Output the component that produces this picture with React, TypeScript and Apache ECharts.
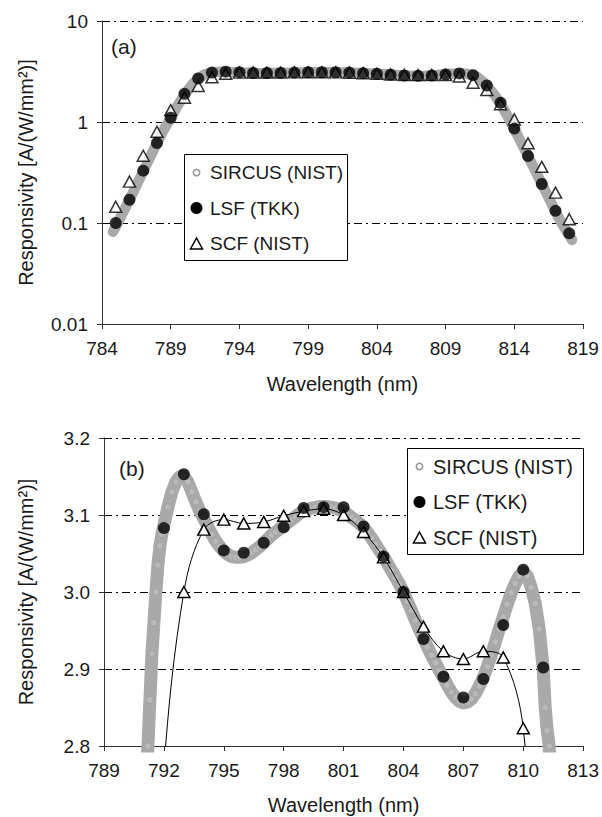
import React, { useEffect, useRef } from "react";
import * as echarts from "echarts";

// ---------------- data ----------------
// SIRCUS (NIST) – dense measurement (wavelength nm, responsivity A/(W/mm2))
const SIRCUS_NM = [
  784.8, 785.0, 785.5, 786.0, 786.5, 787.0, 787.5, 788.0, 788.5, 789.0, 789.5, 790.0, 790.5, 791.0,
  791.2, 791.3, 791.4, 791.5, 791.6, 791.7, 791.8, 791.9, 792.0, 792.2, 792.4, 792.6, 792.8, 793.0,
  793.2, 793.4, 793.6, 793.8, 794.0, 794.2, 794.4, 794.6, 794.8, 795.0, 795.2, 795.4, 795.6, 795.8,
  796.0, 796.2, 796.4, 796.6, 796.8, 797.0, 797.2, 797.4, 797.6, 797.8, 798.0, 798.2, 798.4, 798.6,
  798.8, 799.0, 799.2, 799.4, 799.6, 799.8, 800.0, 800.2, 800.4, 800.6, 800.8, 801.0, 801.2, 801.4,
  801.6, 801.8, 802.0, 802.2, 802.4, 802.6, 802.8, 803.0, 803.2, 803.4, 803.6, 803.8, 804.0, 804.2,
  804.4, 804.6, 804.8, 805.0, 805.2, 805.4, 805.6, 805.8, 806.0, 806.2, 806.4, 806.6, 806.8, 807.0,
  807.2, 807.4, 807.6, 807.8, 808.0, 808.2, 808.4, 808.6, 808.8, 809.0, 809.2, 809.4, 809.6, 809.8,
  810.0, 810.2, 810.4, 810.6, 810.8, 811.0, 811.1, 811.2, 811.3, 811.5, 812.0, 812.5, 813.0, 813.5,
  814.0, 814.5, 815.0, 815.5, 816.0, 816.5, 817.0, 817.5, 818.0, 818.2,
];
const SIRCUS_VAL = [
  0.082, 0.092, 0.125, 0.17, 0.235, 0.325, 0.45, 0.62, 0.84, 1.1, 1.45, 1.85, 2.3, 2.7,
  2.8, 2.86, 2.92, 2.96, 3.0, 3.035, 3.06, 3.075, 3.087, 3.11, 3.13, 3.143, 3.15, 3.15,
  3.143, 3.13, 3.117, 3.105, 3.095, 3.085, 3.075, 3.066, 3.059, 3.053, 3.049, 3.046, 3.045, 3.045,
  3.046, 3.048, 3.051, 3.055, 3.059, 3.064, 3.069, 3.074, 3.078, 3.082, 3.086, 3.09, 3.094, 3.098,
  3.102, 3.105, 3.107, 3.109, 3.11, 3.111, 3.111, 3.111, 3.11, 3.109, 3.107, 3.105, 3.101, 3.097,
  3.093, 3.089, 3.084, 3.077, 3.07, 3.062, 3.054, 3.046, 3.037, 3.028, 3.019, 3.01, 3.0, 2.988,
  2.976, 2.963, 2.951, 2.94, 2.929, 2.918, 2.908, 2.898, 2.889, 2.879, 2.87, 2.863, 2.858, 2.856,
  2.857, 2.861, 2.868, 2.878, 2.889, 2.903, 2.918, 2.935, 2.952, 2.968, 2.984, 2.999, 3.011, 3.021,
  3.026, 3.021, 3.006, 2.985, 2.952, 2.9, 2.85, 2.82, 2.8, 2.65, 2.3, 1.9, 1.52, 1.15,
  0.86, 0.63, 0.46, 0.335, 0.245, 0.178, 0.13, 0.097, 0.075, 0.068,
];

// LSF (TKK)
const LSF_NM = [
  785, 786, 787, 788, 789, 790, 791, 792, 793, 794, 795, 796, 797, 798, 799, 800, 801,
  802, 803, 804, 805, 806, 807, 808, 809, 810, 811, 812, 813, 814, 815, 816, 817, 818,
];
const LSF_VAL = [
  0.1, 0.17, 0.33, 0.62, 1.1, 1.9, 2.7, 3.083, 3.153, 3.101, 3.054, 3.051, 3.064, 3.084, 3.109, 3.11, 3.11,
  3.085, 3.046, 3.0, 2.939, 2.89, 2.863, 2.887, 2.957, 3.029, 2.902, 2.3, 1.55, 0.86, 0.46, 0.243, 0.132, 0.079,
];

// SCF (NIST)
const SCF_NM = [
  785, 786, 787, 788, 789, 790, 791, 792, 793, 794, 795, 796, 797, 798, 799, 800, 801,
  802, 803, 804, 805, 806, 807, 808, 809, 810, 811, 812, 813, 814, 815, 816, 817, 818,
];
const SCF_VAL = [
  0.145, 0.257, 0.463, 0.8, 1.31, 1.74, 2.27, 2.77, 3.0, 3.081, 3.094, 3.089, 3.091, 3.099, 3.105, 3.108, 3.1,
  3.078, 3.045, 3.0, 2.955, 2.923, 2.913, 2.923, 2.915, 2.823, 2.45, 2.07, 1.5, 1.06, 0.615, 0.36, 0.2, 0.109,
];

// axes
const X_A = { min: 784, max: 819, interval: 5 };
const Y_A = { min: 0.01, max: 10 };
const Y_A_LABELS = ["0.01", "0.1", "1", "10"];
const X_B = { min: 789, max: 813, interval: 3 };
const Y_B = { min: 2.8, max: 3.2, interval: 0.1 };

const LEGEND_NAMES = ["SIRCUS (NIST)", "LSF (TKK)", "SCF (NIST)"];
const X_TITLE = "Wavelength (nm)";
const Y_TITLE = "Responsivity [A/(W/mm²)]";

// ---------------- styling ----------------
const FONT = "'Liberation Sans', Arial, Helvetica, sans-serif";
const TEXT = "#1a1a1a";
const AXIS = "#333333";
const DASH_DOT = [8, 4, 2, 4];
const BAND = "#a9a9a9";

const pairs = (xs: number[], ys: number[]) => xs.map((x, i) => [x, ys[i]]);

function legendGraphic(x: number, y: number, w: number, h: number, fs: number) {
  const ix = x + 12.5;
  const tx = x + 26;
  const rows = [y + 18.5, y + 54, y + 89.5];
  return [
    {
      type: "rect",
      z: 100,
      shape: { x: x + 0.5, y: y + 0.5, width: w, height: h },
      style: { fill: "#ffffff", stroke: "#000000", lineWidth: 1 },
    },
    {
      type: "circle",
      z: 101,
      shape: { cx: ix, cy: rows[0], r: 3.2 },
      style: { fill: "#ffffff", stroke: "#9a9a9a", lineWidth: 1.6 },
    },
    {
      type: "circle",
      z: 101,
      shape: { cx: ix, cy: rows[1], r: 6 },
      style: { fill: "#000000" },
    },
    {
      type: "polygon",
      z: 101,
      shape: {
        points: [
          [ix - 6, rows[2] + 5.5],
          [ix + 6, rows[2] + 5.5],
          [ix, rows[2] - 5.5],
        ],
      },
      style: { fill: "#ffffff", stroke: "#000000", lineWidth: 1.5 },
    },
    ...LEGEND_NAMES.map((name, i) => ({
      type: "text",
      z: 101,
      x: tx,
      y: rows[i],
      style: {
        text: name,
        fontSize: fs,
        fontFamily: FONT,
        fill: TEXT,
        align: "left",
        verticalAlign: "middle",
      },
    })),
  ];
}

function xAxisCfg(grid: number, r: { min: number; max: number; interval: number }, gap: number) {
  return {
    gridIndex: grid,
    type: "value",
    min: r.min,
    max: r.max,
    interval: r.interval,
    name: X_TITLE,
    nameLocation: "middle",
    nameGap: gap,
    nameTextStyle: { fontSize: 20, color: TEXT, fontFamily: FONT },
    axisLine: { onZero: false, lineStyle: { color: AXIS, width: 1 } },
    axisTick: { show: true, inside: false, length: 5, lineStyle: { color: AXIS } },
    axisLabel: { fontSize: 19, color: TEXT, fontFamily: FONT, margin: 15 },
    splitLine: { show: false },
  };
}

export default function App() {
  const ref = useRef<HTMLDivElement>(null);

  useEffect(() => {
    if (!ref.current) return;
    const chart = echarts.init(ref.current, undefined, { renderer: "svg" });

    const sircus = pairs(SIRCUS_NM, SIRCUS_VAL);
    const lsf = pairs(LSF_NM, LSF_VAL);
    const scf = pairs(SCF_NM, SCF_VAL);

    const yNameStyle = { fontSize: 20, color: TEXT, fontFamily: FONT };

    const option: any = {
      animation: false,
      backgroundColor: "#ffffff",
      textStyle: { fontFamily: FONT },
      grid: [
        { left: 102, right: 19, top: 21, height: 303, containLabel: false },
        { left: 104, right: 16, top: 438, height: 308, containLabel: false },
      ],
      xAxis: [xAxisCfg(0, X_A, 50), xAxisCfg(1, X_B, 49)],
      yAxis: [
        {
          gridIndex: 0,
          type: "log",
          logBase: 10,
          min: Y_A.min,
          max: Y_A.max,
          name: Y_TITLE,
          nameLocation: "middle",
          nameRotate: 90,
          nameGap: 66,
          nameTextStyle: yNameStyle,
          axisLine: { onZero: false, lineStyle: { color: AXIS, width: 1 } },
          axisTick: { show: true, inside: false, length: 5, lineStyle: { color: AXIS } },
          axisLabel: {
            fontSize: 19,
            color: TEXT,
            fontFamily: FONT,
            margin: 14,
            formatter: (v: number) => Y_A_LABELS[Math.round(Math.log10(v)) + 2] ?? "",
          },
          minorTick: { show: false },
          splitLine: { show: true, lineStyle: { color: "#000000", width: 1, type: DASH_DOT } },
        },
        {
          gridIndex: 1,
          type: "value",
          min: Y_B.min,
          max: Y_B.max,
          interval: Y_B.interval,
          name: Y_TITLE,
          nameLocation: "middle",
          nameRotate: 90,
          nameGap: 68,
          nameTextStyle: yNameStyle,
          axisLine: { onZero: false, lineStyle: { color: AXIS, width: 1 } },
          axisTick: { show: true, inside: false, length: 5, lineStyle: { color: AXIS } },
          axisLabel: {
            fontSize: 19,
            color: TEXT,
            fontFamily: FONT,
            margin: 14,
            formatter: (v: number) => v.toFixed(1),
          },
          splitLine: { show: true, lineStyle: { color: "#000000", width: 1, type: DASH_DOT } },
        },
      ],
      series: [
        // ---- panel (a)
        {
          name: "SIRCUS band a",
          type: "line",
          xAxisIndex: 0,
          yAxisIndex: 0,
          data: sircus,
          showSymbol: false,
          symbol: "none",
          lineStyle: { width: 10.5, color: BAND, cap: "round", join: "round" },
          z: 2,
          silent: true,
        },
        {
          name: "SCF (NIST)",
          type: "scatter",
          xAxisIndex: 0,
          yAxisIndex: 0,
          data: scf,
          symbol: "triangle",
          symbolSize: [12, 11],
          itemStyle: { color: "#ffffff", borderColor: "#000000", borderWidth: 1.5 },
          z: 3,
        },
        {
          name: "LSF (TKK)",
          type: "scatter",
          xAxisIndex: 0,
          yAxisIndex: 0,
          data: lsf,
          symbol: "circle",
          symbolSize: 12,
          itemStyle: { color: "#000000" },
          z: 4,
        },
        // ---- panel (b)
        {
          name: "SIRCUS fit b",
          type: "line",
          xAxisIndex: 1,
          yAxisIndex: 1,
          data: sircus,
          showSymbol: false,
          symbol: "none",
          lineStyle: { width: 1, color: "#000000" },
          z: 1,
          silent: true,
        },
        {
          name: "SIRCUS band b",
          type: "line",
          xAxisIndex: 1,
          yAxisIndex: 1,
          data: sircus,
          showSymbol: false,
          symbol: "none",
          lineStyle: { width: 13, color: BAND, join: "round" },
          z: 2,
          silent: true,
        },
        {
          name: "SIRCUS (NIST)",
          type: "scatter",
          xAxisIndex: 1,
          yAxisIndex: 1,
          data: sircus,
          symbol: "circle",
          symbolSize: 7,
          itemStyle: { color: "#bdbdbd", borderColor: "#a2a2a2", borderWidth: 1.3 },
          z: 4,
        },
        {
          name: "SCF (NIST) b",
          type: "line",
          xAxisIndex: 1,
          yAxisIndex: 1,
          data: scf,
          smooth: 0.35,
          symbol: "triangle",
          symbolSize: [12, 11],
          showSymbol: true,
          showAllSymbol: true,
          lineStyle: { width: 1, color: "#000000" },
          itemStyle: { color: "#ffffff", borderColor: "#000000", borderWidth: 1.5 },
          z: 5,
        },
        {
          name: "LSF (TKK) b",
          type: "scatter",
          xAxisIndex: 1,
          yAxisIndex: 1,
          data: lsf,
          symbol: "circle",
          symbolSize: 12,
          itemStyle: { color: "#000000" },
          z: 6,
        },
      ],
      graphic: [
        {
          type: "text",
          z: 100,
          x: 111,
          y: 46,
          style: { text: "(a)", fontSize: 21, fontFamily: FONT, fill: TEXT, verticalAlign: "middle" },
        },
        {
          type: "text",
          z: 100,
          x: 119,
          y: 468,
          style: { text: "(b)", fontSize: 21, fontFamily: FONT, fill: TEXT, verticalAlign: "middle" },
        },
        ...legendGraphic(184, 154, 163, 106, 19),
        ...legendGraphic(407, 448, 176, 106, 20),
      ],
    };

    chart.setOption(option);
    return () => chart.dispose();
  }, []);

  return (
    <div
      ref={ref}
      style={{ position: "absolute", left: 0, top: 0, width: 602, height: 817, background: "#fff" }}
    />
  );
}
